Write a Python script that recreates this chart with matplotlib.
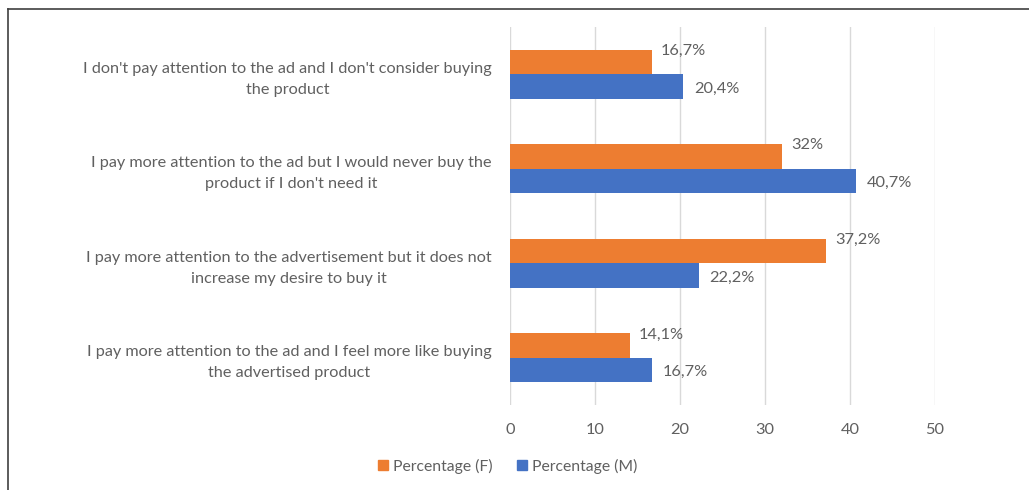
import matplotlib.pyplot as plt
import numpy as np
from matplotlib.lines import Line2D

categories = [
    "I don't pay attention to the ad and I don't consider buying\nthe product",
    "I pay more attention to the ad but I would never buy the\nproduct if I don't need it",
    "I pay more attention to the advertisement but it does not\nincrease my desire to buy it",
    "I pay more attention to the ad and I feel more like buying\nthe advertised product",
]
female = [16.7, 32.0, 37.2, 14.1]
male = [20.4, 40.7, 22.2, 16.7]
series_names = ['Percentage (F)', 'Percentage (M)']

ORANGE = '#ED7D31'
BLUE = '#4472C4'
TEXT = '#606060'


def pct(v):
    s = f'{v:.1f}'.rstrip('0').rstrip('.')
    return s.replace('.', ',') + '%'


plt.rcParams['font.family'] = ['Lato', 'DejaVu Sans']

fig = plt.figure(figsize=(10.29, 4.9), dpi=100)
ax = fig.add_axes([0.4956, 0.1735, 0.413, 0.7715])

y = np.arange(len(categories))[::-1]
h = 0.26
bars_f = ax.barh(y + h / 2, female, height=h, color=ORANGE, label=series_names[0], zorder=3)
bars_m = ax.barh(y - h / 2, male, height=h, color=BLUE, label=series_names[1], zorder=3)

for b, v in zip(bars_f, female):
    ax.annotate(pct(v), (b.get_width(), b.get_y() + b.get_height() / 2),
                xytext=(9, 11), textcoords='offset pixels', ha='left', va='center',
                fontsize=11.8, color=TEXT)
for b, v in zip(bars_m, male):
    ax.annotate(pct(v), (b.get_width(), b.get_y() + b.get_height() / 2),
                xytext=(11, -2), textcoords='offset pixels', ha='left', va='center',
                fontsize=11.8, color=TEXT)

ax.set_xlim(0, 50)
ax.set_ylim(-0.5, len(categories) - 0.5)
ax.set_xticks(range(0, 51, 10))
ax.set_yticks(y)
ax.set_yticklabels(categories, ha='right', multialignment='center', linespacing=1.62)
ax.tick_params(axis='both', length=0, colors=TEXT)
ax.tick_params(axis='y', pad=13, labelsize=11.7)
ax.tick_params(axis='x', pad=13, labelsize=11.8)
ax.grid(axis='x', color='#D9D9D9', linewidth=1, zorder=0)
for sp in ax.spines.values():
    sp.set_visible(False)

handles = [Line2D([], [], marker='s', linestyle='none', markersize=7, color=ORANGE),
           Line2D([], [], marker='s', linestyle='none', markersize=7, color=BLUE)]
fig.legend(handles, series_names, loc='center', bbox_to_anchor=(0.492, 0.049), ncol=2,
           frameon=False, fontsize=11.3, labelcolor=TEXT, handletextpad=0.15,
           columnspacing=1.4, handlelength=1.0)

# outer chart frame along the top and left edges
fig.add_artist(Line2D([8 / 1029, 1], [1 - 9 / 490, 1 - 9 / 490], transform=fig.transFigure,
                      color='#404040', linewidth=1.2))
fig.add_artist(Line2D([8 / 1029, 8 / 1029], [0, 1 - 9 / 490], transform=fig.transFigure,
                      color='#404040', linewidth=1.2))

fig.savefig('out.png', dpi=100)
